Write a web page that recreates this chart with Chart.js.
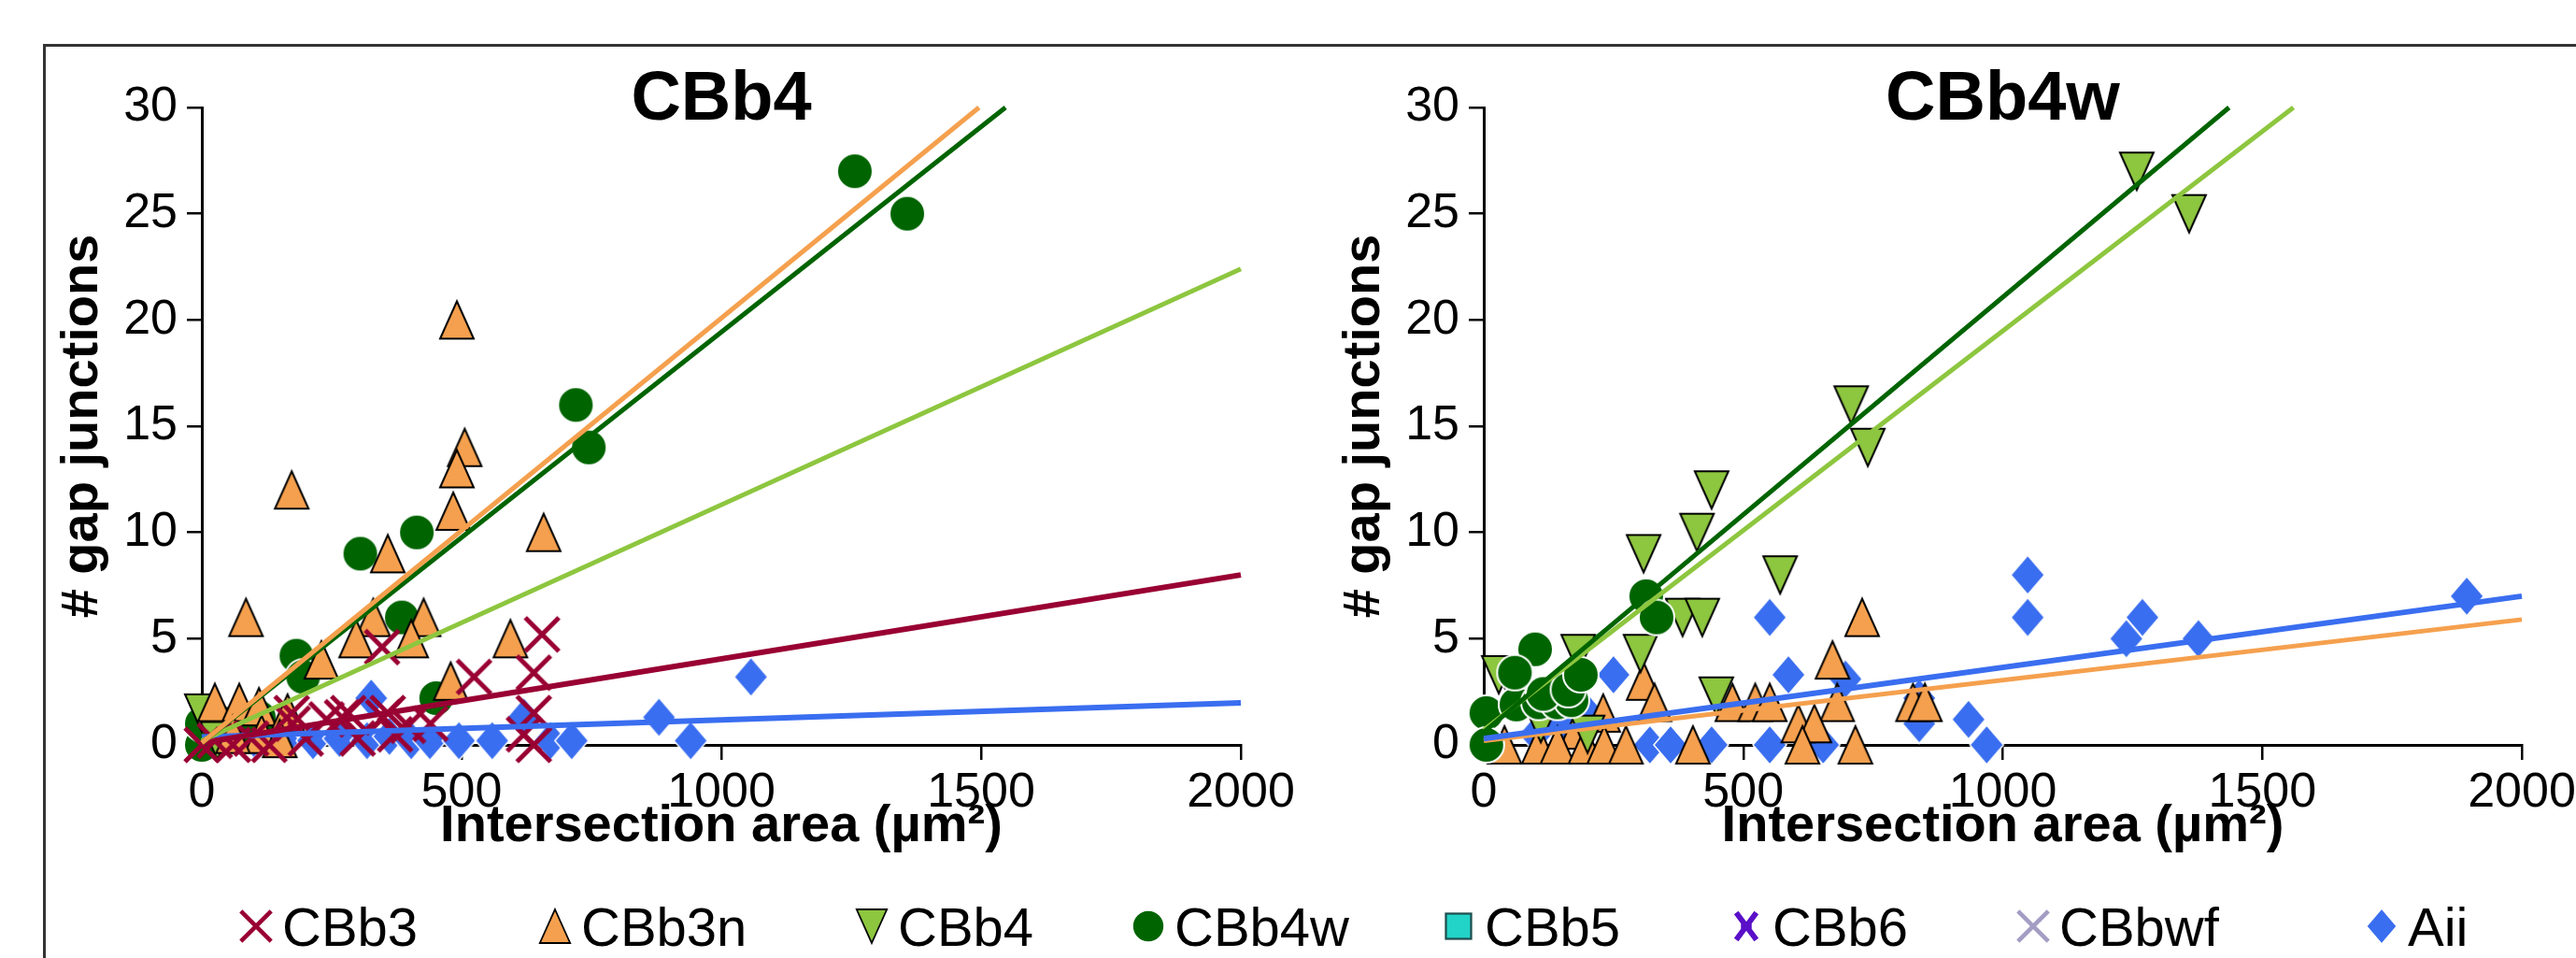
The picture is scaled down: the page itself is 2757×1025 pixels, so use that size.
<!DOCTYPE html>
<html><head><meta charset="utf-8">
<script src="https://cdn.jsdelivr.net/npm/chart.js@4.4.1/dist/chart.umd.min.js"></script>
<style>
html,body{margin:0;padding:0;background:#fff;}
body{width:2757px;height:1025px;position:relative;overflow:hidden;font-family:"Liberation Sans",Arial,sans-serif;}
#frame{position:absolute;left:46px;top:47px;width:2800px;height:1100px;border-top:3px solid #333;border-left:3px solid #333;box-sizing:border-box;}
canvas.cv{position:absolute;top:0;}
#c1{left:0;}
#c2{left:1372px;}
.lg{position:absolute;top:958px;height:66px;display:flex;align-items:center;font-size:58px;color:#000;white-space:nowrap;}
.lg canvas{margin-right:8px;}
</style></head>
<body>
<div id="frame"></div>
<canvas id="c1" class="cv" width="1440" height="960"></canvas>
<canvas id="c2" class="cv" width="1500" height="960"></canvas>
<div id="legend"></div>
<script>
// ---------- tick labels / categories ----------
const xTickValues = [0, 500, 1000, 1500, 2000];
const yTickValues = [0, 5, 10, 15, 20, 25, 30];
const panelTitles = ['CBb4', 'CBb4w'];
const xAxisTitle = 'Intersection area (µm²)';
const yAxisTitle = '# gap junctions';
const legendLabels = ['CBb3', 'CBb3n', 'CBb4', 'CBb4w', 'CBb5', 'CBb6', 'CBbwf', 'Aii'];

// ---------- panel 1 (CBb4) data: [area, gap junctions] ----------
const p1_CBb3 = [[0,0],[25,0.2],[60,0],[95,0.3],[130,0],[175,1],[173,1.5],[240,1.2],[282,1.5],[270,1.3],[349,1.3],[358,1.5],[372,0.5],[397,0.9],[347,4.6],[440,1],[524,3.2],[639,3.4],[655,5.2],[639,1.5],[639,0],[620,0.5],[300,0.3],[200,0.3]];
const p1_CBb3n = [[491,20],[506,14],[491,13],[173,12],[484,11],[658,10],[358,9],[85,6],[330,6],[427,6],[297,5],[594,5],[403,5],[230,4],[479,3],[25,2],[72,2],[110,1.8],[115,0.5],[165,1.5],[60,0.5],[150,0.3]];
const p1_CBb4 = [[0,1.5],[30,0.2]];
const p1_CBb4w = [[1257,27],[1358,25],[720,16],[745,14],[414,10],[305,9],[385,6],[182,4.2],[195,3.2],[451,2.2],[0,0],[0,1],[45,1],[110,1.3],[80,0.5]];
const p1_Aii = [[1057,3.2],[880,1.3],[941,0.2],[326,2.2],[620,1.3],[157,0.2],[214,0.2],[265,0.3],[318,0.2],[361,0.4],[403,0.2],[439,0.2],[495,0.2],[559,0.2],[671,0.2],[712,0.2],[100,0.3]];
// regression lines (end points)
const p1_fit_CBb3n = [[0,0.1],[1496,30]];
const p1_fit_CBb4w = [[0,0.1],[1547,30]];
const p1_fit_CBb4 = [[0,0.2],[2000,22.4]];
const p1_fit_CBb3 = [[0,0.1],[2000,8.0]];
const p1_fit_Aii = [[0,0.37],[2000,1.98]];

// ---------- panel 2 (CBb4w) data ----------
const p2_CBb3n = [[729,6],[672,4],[681,2],[827,2],[850,2],[308,3],[329,2],[479,2],[523,2],[551,2],[606,1],[637,1],[178,0.7],[230,1.5],[40,0],[106,0],[142,0],[196,0],[232,0],[274,0],[403,0],[614,0],[716,0]];
const p2_CBb4 = [[1258,27],[1359,25],[708,16],[740,14],[439,12],[411,10],[308,9],[571,8],[383,6],[421,6],[182,4.3],[302,4.3],[448,2.3],[29,3.3],[60,2.5],[110,1],[200,0.5]];
const p2_CBb4w = [[5,1.5],[5,0],[63,1.9],[106,2],[142,2],[169,2.1],[99,4.5],[115,2.4],[163,2.6],[187,3.3],[313,7],[333,6],[60,3.4]];
const p2_Aii = [[1048,8],[1048,6],[1269,6],[1238,5],[1377,5],[1894,7],[551,6],[587,3.3],[250,3.3],[697,3.1],[839,2.2],[839,1],[934,1.2],[969,0],[320,0],[360,0],[439,0],[551,0],[654,0],[100,0.5],[150,1],[200,1.5]];
const p2_fit_CBb4w = [[0,0.6],[1436,30]];
const p2_fit_CBb4 = [[0,0.7],[1560,30]];
const p2_fit_Aii = [[0,0.3],[2000,7.0]];
const p2_fit_CBb3n = [[0,0.2],[2000,5.9]];

// ---------- styles ----------
const FONT = '"Liberation Sans", Arial, sans-serif';
const COL = {CBb3:'#990033', CBb3n:'#F5A04E', CBb4:'#8DC63F', CBb4w:'#006400', CBb5:'#22D3C8', CBb6:'#5A0FC8', CBbwf:'#A39DC4', Aii:'#3A6EF0'};
const LINEW = {CBb3:6, CBb3n:5, CBb4:5, CBb4w:5, Aii:6};

function makeMarker(kind, color, s) {
  const c = document.createElement('canvas');
  const W = Math.ceil(44 * s), H = Math.ceil(48 * s);
  c.width = W; c.height = H;
  const g = c.getContext('2d');
  const cx = W / 2, cy = H / 2;
  g.lineJoin = 'miter';
  if (kind === 'tri' || kind === 'tridown') {
    const w = 36 * s, h = 40 * s, d = kind === 'tri' ? 1 : -1;
    g.beginPath();
    g.moveTo(cx, cy - d * h / 2);
    g.lineTo(cx + w / 2, cy + d * h / 2);
    g.lineTo(cx - w / 2, cy + d * h / 2);
    g.closePath();
    g.fillStyle = color; g.fill();
    g.lineWidth = 2 * s; g.strokeStyle = '#000'; g.stroke();
  } else if (kind === 'circle') {
    g.beginPath(); g.arc(cx, cy, 19 * s, 0, Math.PI * 2);
    g.fillStyle = color; g.fill();
    g.lineWidth = 2 * s; g.strokeStyle = '#fff'; g.stroke();
  } else if (kind === 'diamond') {
    const w = 36 * s, h = 42 * s;
    g.beginPath();
    g.moveTo(cx, cy - h / 2); g.lineTo(cx + w / 2, cy); g.lineTo(cx, cy + h / 2); g.lineTo(cx - w / 2, cy); g.closePath();
    g.fillStyle = color; g.fill();
    g.lineWidth = 1.5 * s; g.strokeStyle = '#fff'; g.stroke();
  } else if (kind === 'x') {
    const r = 18 * s;
    g.beginPath();
    g.moveTo(cx - r, cy - r); g.lineTo(cx + r, cy + r);
    g.moveTo(cx + r, cy - r); g.lineTo(cx - r, cy + r);
    g.lineWidth = 5 * s; g.strokeStyle = color; g.stroke();
  } else if (kind === 'xbold') {
    const r = 16 * s;
    g.beginPath();
    g.moveTo(cx - r * 0.75, cy - r); g.lineTo(cx + r * 0.75, cy + r);
    g.moveTo(cx + r * 0.75, cy - r); g.lineTo(cx - r * 0.75, cy + r);
    g.moveTo(cx - r * 0.4, cy); g.lineTo(cx + r * 0.4, cy);
    g.lineWidth = 6.5 * s; g.strokeStyle = color; g.stroke();
  } else if (kind === 'square') {
    const w = 30 * s;
    g.fillStyle = color; g.fillRect(cx - w / 2, cy - w / 2, w, w);
    g.lineWidth = 2.5 * s; g.strokeStyle = '#1f4f4f'; g.strokeRect(cx - w / 2, cy - w / 2, w, w);
  }
  return c;
}
const KIND = {CBb3:'x', CBb3n:'tri', CBb4:'tridown', CBb4w:'circle', CBb5:'square', CBb6:'xbold', CBbwf:'x', Aii:'diamond'};
const MARK = {};
legendLabels.forEach(k => MARK[k] = makeMarker(KIND[k], COL[k], 1));

const toXY = arr => arr.map(([x, y]) => ({x, y}));

const titlePlugin = {
  id: 'panelTitle',
  afterDraw(chart, args, opts) {
    const {ctx, chartArea} = chart;
    ctx.save();
    ctx.font = 'bold 74px ' + FONT;
    ctx.fillStyle = '#000';
    ctx.textAlign = 'center';
    ctx.textBaseline = 'alphabetic';
    ctx.fillText(opts.text, (chartArea.left + chartArea.right) / 2, 128);
    ctx.restore();
  }
};

function buildChart(id, title, points, fits, padRight) {
  const datasets = [];
  fits.forEach(f => datasets.push({
    type: 'line', label: 'fit ' + f.name, data: toXY(f.data), borderColor: COL[f.name],
    borderWidth: LINEW[f.name], pointRadius: 0, fill: false, order: 0, clip: false
  }));
  points.forEach((p, i) => datasets.push({
    type: 'scatter', label: p.name, data: toXY(p.data), pointStyle: MARK[p.name], pointRadius: 20,
    pointHoverRadius: 20, order: 1 + i, clip: false
  }));
  return new Chart(document.getElementById(id), {
    type: 'scatter',
    data: {datasets},
    options: {
      responsive: false, animation: false, devicePixelRatio: 1, events: [],
      layout: {padding: {top: 115, left: 0, right: padRight, bottom: 0}},
      plugins: {legend: {display: false}, tooltip: {enabled: false}, title: {display: false}, panelTitle: {text: title}},
      scales: {
        x: {
          type: 'linear', min: 0, max: 2000,
          afterBuildTicks: s => { s.ticks = xTickValues.map(v => ({value: v})); },
          afterFit: s => { s.height = 163; },
          grid: {drawOnChartArea: false, drawTicks: true, tickLength: 16, color: '#000', lineWidth: 2.5},
          border: {display: true, color: '#000', width: 3},
          ticks: {font: {size: 52, family: FONT, lineHeight: 1.2}, color: '#000', padding: 4, maxRotation: 0, autoSkip: false,
                  callback: v => String(v)},
          title: {display: true, text: xAxisTitle, color: '#000', font: {size: 56, weight: 'bold', family: FONT, lineHeight: 1.2}, padding: {top: 0, bottom: 42}}
        },
        y: {
          type: 'linear', min: 0, max: 30,
          afterBuildTicks: s => { s.ticks = yTickValues.map(v => ({value: v})); },
          afterFit: s => { s.width = 216; },
          grid: {drawOnChartArea: false, drawTicks: true, tickLength: 16, color: '#000', lineWidth: 2.5},
          border: {display: true, color: '#000', width: 3},
          ticks: {font: {size: 52, family: FONT, lineHeight: 1.2}, color: '#000', padding: 10, autoSkip: false,
                  callback: v => String(v)},
          title: {display: true, text: yAxisTitle, color: '#000', font: {size: 56, weight: 'bold', family: FONT, lineHeight: 1.2}, padding: {top: 55, bottom: 0}}
        }
      }
    },
    plugins: [titlePlugin]
  });
}

buildChart('c1', panelTitles[0],
  [{name:'Aii', data:p1_Aii}, {name:'CBb4w', data:p1_CBb4w}, {name:'CBb4', data:p1_CBb4}, {name:'CBb3n', data:p1_CBb3n}, {name:'CBb3', data:p1_CBb3}].reverse(),
  [{name:'CBb3n', data:p1_fit_CBb3n}, {name:'CBb4w', data:p1_fit_CBb4w}, {name:'CBb4', data:p1_fit_CBb4}, {name:'CBb3', data:p1_fit_CBb3}, {name:'Aii', data:p1_fit_Aii}],
  1440 - 1328);
buildChart('c2', panelTitles[1],
  [{name:'Aii', data:p2_Aii}, {name:'CBb3n', data:p2_CBb3n}, {name:'CBb4', data:p2_CBb4}, {name:'CBb4w', data:p2_CBb4w}].reverse(),
  [{name:'CBb4w', data:p2_fit_CBb4w}, {name:'CBb4', data:p2_fit_CBb4}, {name:'Aii', data:p2_fit_Aii}, {name:'CBb3n', data:p2_fit_CBb3n}],
  1500 - (2699 - 1372));

// ---------- legend ----------
const legendX = [254, 574, 913, 1209, 1541, 1849, 2156, 2529];
const lg = document.getElementById('legend');
legendLabels.forEach((name, i) => {
  const d = document.createElement('div');
  d.className = 'lg';
  d.style.left = legendX[i] + 'px';
  const m = makeMarker(KIND[name], COL[name], 0.9);
  d.appendChild(m);
  const t = document.createElement('span');
  t.textContent = name;
  d.appendChild(t);
  lg.appendChild(d);
});
</script>
</body></html>
